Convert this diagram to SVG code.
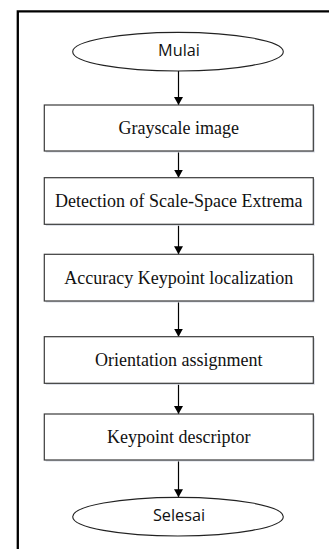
<svg xmlns="http://www.w3.org/2000/svg" width="329" height="549" viewBox="0 0 329 549">
<defs>
<marker id="ah" viewBox="0 0 8 9" refX="8" refY="4.5" markerWidth="8" markerHeight="9" markerUnits="userSpaceOnUse" orient="auto">
<path d="M0,0 L8,4.5 L0,9 Z" fill="#000"/>
</marker>
<style>
.box{fill:#fff;stroke:#3a3a3a;stroke-width:1.2}
.shadow{fill:#d5d9e3}
.term{fill:#fff;stroke:#222;stroke-width:1.1}
.lbl{font-family:"Liberation Serif","Times New Roman",serif;font-size:18px;fill:#111;text-anchor:middle}
.tlbl{font-family:"Open Sans","Liberation Sans",sans-serif;font-size:16.3px;fill:#111;text-anchor:middle}
.conn{stroke:#000;stroke-width:1.2;fill:none;marker-end:url(#ah)}
</style>
</defs>
<rect width="329" height="549" fill="#fff"/>
<path d="M17.8,560 V11.3 H340" fill="none" stroke="#000" stroke-width="2.3"/>
<g id="connectors">
<line class="conn" x1="178.5" y1="71" x2="178.5" y2="105"/>
<line class="conn" x1="178.5" y1="151" x2="178.5" y2="177.7"/>
<line class="conn" x1="178.5" y1="224.3" x2="178.5" y2="254.3"/>
<line class="conn" x1="178.5" y1="301" x2="178.5" y2="336.7"/>
<line class="conn" x1="178.5" y1="383.3" x2="178.5" y2="414"/>
<line class="conn" x1="178.5" y1="460" x2="178.5" y2="497.3"/>
</g>
<g id="mulai">
<ellipse class="term" cx="178" cy="51.7" rx="105.3" ry="19.3"/>
<text class="tlbl" x="179" y="56">Mulai</text>
</g>
<g id="grayscale">
<rect class="shadow" x="45.8" y="106.5" width="269" height="46"/>
<rect class="box" x="44.3" y="105" width="269" height="46"/>
<text class="lbl" x="178.8" y="134">Grayscale image</text>
</g>
<g id="detection">
<rect class="shadow" x="45.8" y="179.2" width="269" height="46.6"/>
<rect class="box" x="44.3" y="177.7" width="269" height="46.6"/>
<text class="lbl" x="178.8" y="207">Detection of Scale-Space Extrema</text>
</g>
<g id="accuracy">
<rect class="shadow" x="45.8" y="255.8" width="269" height="46.7"/>
<rect class="box" x="44.3" y="254.3" width="269" height="46.7"/>
<text class="lbl" x="178.8" y="283.6">Accuracy Keypoint localization</text>
</g>
<g id="orientation">
<rect class="shadow" x="45.8" y="338.2" width="269" height="46.6"/>
<rect class="box" x="44.3" y="336.7" width="269" height="46.6"/>
<text class="lbl" x="178.8" y="366">Orientation assignment</text>
</g>
<g id="descriptor">
<rect class="shadow" x="45.8" y="415.5" width="269" height="46"/>
<rect class="box" x="44.3" y="414" width="269" height="46"/>
<text class="lbl" x="178.8" y="443">Keypoint descriptor</text>
</g>
<g id="selesai">
<ellipse class="term" cx="178" cy="516.7" rx="105.3" ry="19.3"/>
<text class="tlbl" x="179" y="521">Selesai</text>
</g>
</svg>
